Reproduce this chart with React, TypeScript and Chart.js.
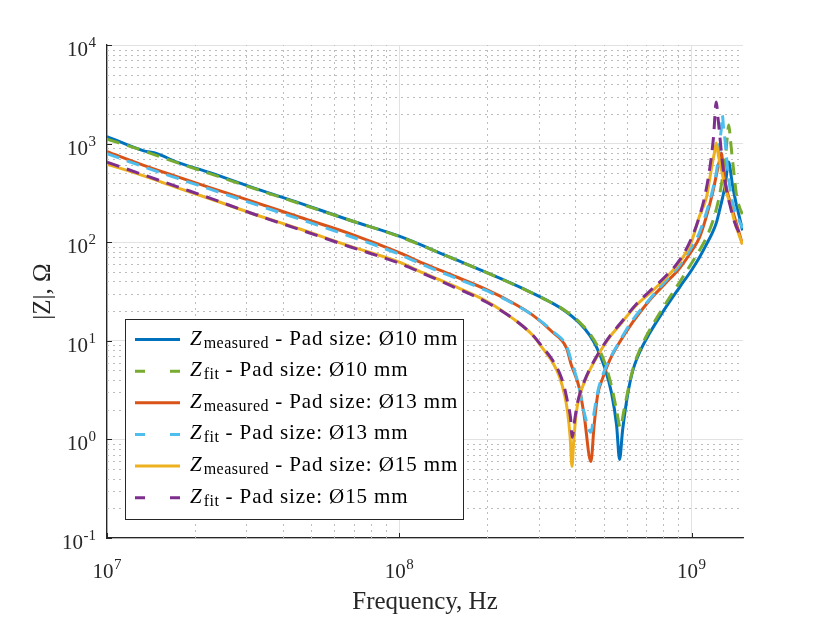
import { useEffect, useRef } from 'react';
import { Chart, registerables } from 'chart.js';

Chart.register(...registerables);

// ---------- data (frequency in Hz, |Z| in Ohm) ----------
const fMeas10 = [1.0e7, 1.328e7, 1.482e7, 1.735e7, 2.25e7, 3.083e7, 4.569e7, 6.772e7, 1.0e8, 1.488e8, 2.206e8, 2.794e8, 3.27e8, 3.68e8, 4.141e8, 4.48e8, 4.734e8, 5.042e8, 5.328e8, 5.541e8, 5.673e8, 5.808e8, 6.041e8, 6.284e8, 6.641e8, 7.185e8, 8.086e8, 9.1e8, 1.0e9, 1.065e9, 1.125e9, 1.18e9, 1.218e9, 1.247e9, 1.276e9, 1.307e9, 1.338e9, 1.381e9, 1.425e9, 1.459e9, 1.494e9];
const zMeas10 = [1178, 849, 791, 649, 508, 366, 249, 167, 115, 70.4, 43.1, 31.4, 24.9, 20.2, 15.1, 11.4, 8.59, 5.38, 2.93, 1.39, 0.627, 1.23, 2.8, 4.9, 7.64, 11.9, 20.9, 34.9, 52.0, 70.4, 95.4, 126, 160, 211, 280, 397, 649, 379, 237, 179, 132];

const fFit10 = [1.0e7, 1.328e7, 1.482e7, 1.735e7, 2.25e7, 3.083e7, 4.569e7, 6.772e7, 1.0e8, 1.488e8, 2.206e8, 2.794e8, 3.27e8, 3.68e8, 4.141e8, 4.48e8, 4.734e8, 5.042e8, 5.328e8, 5.541e8, 5.708e8, 5.854e8, 6.041e8, 6.284e8, 6.641e8, 7.185e8, 8.086e8, 9.1e8, 1.0e9, 1.065e9, 1.125e9, 1.18e9, 1.218e9, 1.247e9, 1.276e9, 1.307e9, 1.322e9, 1.341e9, 1.359e9, 1.381e9, 1.403e9, 1.425e9, 1.459e9, 1.494e9];
const zFit10 = [1111, 849, 755, 641, 496, 362, 246, 167, 114, 70.4, 43.1, 31.4, 24.9, 20.4, 15.4, 11.9, 9.21, 6.05, 3.45, 1.97, 1.32, 1.88, 3.0, 5.02, 8.01, 12.8, 22.9, 39.3, 61.2, 82.9, 112, 160, 221, 300, 446, 712, 1085, 1541, 1085, 680, 446, 300, 227, 192];

const fMeas13 = [1.0e7, 1.328e7, 1.735e7, 2.25e7, 3.083e7, 4.569e7, 6.772e7, 1.0e8, 1.203e8, 1.488e8, 1.991e8, 2.443e8, 2.861e8, 3.348e8, 3.738e8, 3.873e8, 4.125e8, 4.291e8, 4.526e8, 4.642e8, 4.771e8, 4.963e8, 5.245e8, 5.673e8, 6.284e8, 7.185e8, 8.086e8, 9.1e8, 1.0e9, 1.065e9, 1.125e9, 1.18e9, 1.218e9, 1.247e9, 1.264e9, 1.287e9, 1.317e9, 1.359e9, 1.403e9, 1.459e9, 1.494e9];
const zMeas13 = [829, 605, 462, 358, 264, 179, 122, 78.2, 61.2, 47.3, 33.0, 24.3, 18.2, 12.2, 8.39, 5.77, 3.37, 1.75, 0.598, 1.39, 2.8, 4.16, 6.34, 9.66, 15.4, 25.8, 37.5, 54.5, 81.0, 112, 184, 314, 490, 680, 801, 538, 353, 249, 179, 121, 95.4];

const fFit13 = [1.0e7, 1.328e7, 1.735e7, 2.25e7, 3.083e7, 4.569e7, 6.772e7, 1.0e8, 1.203e8, 1.488e8, 1.991e8, 2.443e8, 2.861e8, 3.348e8, 3.738e8, 3.873e8, 4.125e8, 4.291e8, 4.526e8, 4.642e8, 4.771e8, 4.963e8, 5.245e8, 5.673e8, 6.284e8, 7.185e8, 8.086e8, 9.1e8, 1.0e9, 1.065e9, 1.125e9, 1.18e9, 1.213e9, 1.232e9, 1.247e9, 1.265e9, 1.275e9, 1.287e9, 1.302e9, 1.317e9, 1.354e9, 1.381e9, 1.425e9, 1.494e9];
const zFit13 = [791, 584, 446, 345, 252, 171, 115, 75.5, 59.1, 45.7, 32.2, 24.0, 18.2, 12.5, 8.79, 6.34, 3.37, 1.88, 1.18, 1.88, 3.0, 4.46, 6.49, 9.88, 16.2, 26.4, 39.3, 58.4, 88.9, 126, 202, 337, 490, 680, 1012, 1437, 1947, 1437, 1085, 729, 353, 255, 192, 139];

const fMeas15 = [1.0e7, 1.328e7, 1.735e7, 2.25e7, 3.083e7, 4.569e7, 6.772e7, 1.0e8, 1.203e8, 1.488e8, 1.991e8, 2.443e8, 2.861e8, 3.095e8, 3.348e8, 3.538e8, 3.68e8, 3.768e8, 3.843e8, 3.898e8, 3.95e8, 4.013e8, 4.076e8, 4.141e8, 4.309e8, 4.48e8, 4.848e8, 5.245e8, 5.673e8, 6.47e8, 7.185e8, 8.086e8, 9.1e8, 1.0e9, 1.065e9, 1.125e9, 1.152e9, 1.18e9, 1.199e9, 1.215e9, 1.237e9, 1.267e9, 1.307e9, 1.354e9, 1.403e9, 1.459e9, 1.494e9];
const zMeas15 = [619, 473, 358, 276, 199, 136, 91.1, 62.7, 49.0, 37.5, 25.2, 16.9, 11.4, 8.39, 6.05, 4.26, 2.8, 1.88, 1.05, 0.532, 0.932, 1.63, 2.27, 2.8, 3.88, 5.02, 7.64, 10.9, 14.4, 22.9, 30.3, 42.1, 62.7, 102, 184, 286, 426, 649, 820, 1012, 747, 538, 345, 249, 163, 115, 95.4];

const fFit15 = [1.0e7, 1.328e7, 1.735e7, 2.25e7, 3.083e7, 4.569e7, 6.772e7, 1.0e8, 1.203e8, 1.488e8, 1.991e8, 2.443e8, 2.861e8, 3.095e8, 3.348e8, 3.538e8, 3.68e8, 3.768e8, 3.857e8, 3.904e8, 3.981e8, 4.076e8, 4.141e8, 4.309e8, 4.48e8, 4.848e8, 5.245e8, 5.673e8, 6.47e8, 7.185e8, 8.086e8, 9.1e8, 1.0e9, 1.065e9, 1.108e9, 1.152e9, 1.189e9, 1.215e9, 1.232e9, 1.247e9, 1.279e9, 1.317e9, 1.354e9, 1.403e9, 1.459e9, 1.494e9];
const zFit15 = [649, 484, 366, 280, 199, 134, 90.0, 61.2, 48.4, 36.6, 24.6, 16.9, 11.4, 8.59, 6.34, 4.68, 3.29, 2.37, 1.63, 1.05, 1.56, 2.37, 2.86, 3.97, 5.14, 7.82, 11.1, 14.7, 23.5, 31.8, 44.1, 65.7, 110, 184, 286, 538, 1164, 2638, 1815, 1278, 591, 337, 237, 160, 123, 112];

const seriesF = [fMeas10, fFit10, fMeas13, fFit13, fMeas15, fFit15];
const seriesZ = [zMeas10, zFit10, zMeas13, zFit13, zMeas15, zFit15];
const seriesColors = ['#0072BD', '#77AC30', '#D95319', '#4DBEEE', '#EDB120', '#7E2F8E'];
const seriesDashed = [false, true, false, true, false, true];
const legendSubs = ['measured', 'fit', 'measured', 'fit', 'measured', 'fit'];
const legendRest = [' - Pad size: Ø10 mm', ' - Pad size: Ø10 mm', ' - Pad size: Ø13 mm', ' - Pad size: Ø13 mm', ' - Pad size: Ø15 mm', ' - Pad size: Ø15 mm'];

const xMajorTicks = [1e7, 1e8, 1e9];
const xTickExponents = ['7', '8', '9'];
const yMajorTicks = [1e-1, 1, 10, 100, 1000, 10000];
const yTickExponents = ['-1', '0', '1', '2', '3', '4'];
const minorMultipliers = [2, 3, 4, 5, 6, 7, 8, 9];

const xTitle = 'Frequency, Hz';
const yTitle = '|Z|, Ω';

const SERIF = '"Liberation Serif", "Times New Roman", serif';

const decorPlugin = {
  id: 'decor',
  beforeDatasetsDraw(chart: any) {
    const { ctx, chartArea: a, scales } = chart;
    const x = scales.x;
    const y = scales.y;
    ctx.save();
    ctx.strokeStyle = '#bdbdbd';
    ctx.lineWidth = 1;
    ctx.setLineDash([2, 4]);
    for (const major of xMajorTicks) {
      for (const m of minorMultipliers) {
        const v = major * m;
        if (v < x.min || v > x.max) continue;
        const px = Math.round(x.getPixelForValue(v)) + 0.5;
        ctx.beginPath();
        ctx.moveTo(px, a.bottom);
        ctx.lineTo(px, a.top);
        ctx.stroke();
      }
    }
    for (const major of yMajorTicks) {
      for (const m of minorMultipliers) {
        const v = major * m;
        if (v < y.min || v > y.max) continue;
        const py = Math.round(y.getPixelForValue(v)) + 0.5;
        ctx.beginPath();
        ctx.moveTo(a.left, py);
        ctx.lineTo(a.right, py);
        ctx.stroke();
      }
    }
    ctx.restore();
  },
  afterDraw(chart: any) {
    const { ctx, chartArea: a, scales } = chart;
    const x = scales.x;
    const y = scales.y;
    ctx.save();
    // tick marks (inward)
    ctx.strokeStyle = '#262626';
    ctx.lineWidth = 1;
    ctx.setLineDash([]);
    xMajorTicks.forEach((v) => {
      const px = Math.round(x.getPixelForValue(v)) + 0.5;
      ctx.beginPath();
      ctx.moveTo(px, a.bottom);
      ctx.lineTo(px, a.bottom - 5);
      ctx.stroke();
    });
    yMajorTicks.forEach((v) => {
      const py = Math.round(y.getPixelForValue(v)) + 0.5;
      ctx.beginPath();
      ctx.moveTo(a.left, py);
      ctx.lineTo(a.left + 5, py);
      ctx.stroke();
    });

    // tick labels
    ctx.fillStyle = '#262626';
    ctx.textBaseline = 'alphabetic';
    ctx.textAlign = 'left';
    const baseFont = `21px ${SERIF}`;
    const expFont = `15px ${SERIF}`;
    xMajorTicks.forEach((v, i) => {
      const px = x.getPixelForValue(v);
      ctx.font = baseFont;
      const w1 = ctx.measureText('10').width;
      ctx.font = expFont;
      const w2 = ctx.measureText(xTickExponents[i]).width;
      const start = px - (w1 + w2 + 0.5) / 2;
      ctx.font = baseFont;
      ctx.fillText('10', start, a.bottom + 40);
      ctx.font = expFont;
      ctx.fillText(xTickExponents[i], start + w1 + 0.5, a.bottom + 31);
    });
    yMajorTicks.forEach((v, i) => {
      const py = y.getPixelForValue(v);
      ctx.font = baseFont;
      const w1 = ctx.measureText('10').width;
      ctx.font = expFont;
      const w2 = ctx.measureText(yTickExponents[i]).width;
      const right = a.left - 11;
      const start = right - w2 - 0.5 - w1;
      ctx.font = baseFont;
      ctx.fillText('10', start, py + 11);
      ctx.font = expFont;
      ctx.fillText(yTickExponents[i], start + w1 + 0.5, py + 2);
    });

    // axis titles
    ctx.font = `25px ${SERIF}`;
    ctx.textAlign = 'center';
    ctx.fillText(xTitle, (a.left + a.right) / 2, a.bottom + 71);
    ctx.save();
    ctx.translate(a.left - 57, (a.top + a.bottom) / 2);
    ctx.rotate(-Math.PI / 2);
    ctx.fillText(yTitle, 0, 0);
    ctx.restore();

    // legend
    const bx = 125.5, by = 319.5, bw = 338, bh = 200;
    ctx.fillStyle = '#ffffff';
    ctx.fillRect(bx, by, bw, bh);
    ctx.strokeStyle = '#262626';
    ctx.lineWidth = 1;
    ctx.strokeRect(bx, by, bw, bh);
    const rowStart = 339.5;
    const rowGap = 31.65;
    for (let i = 0; i < seriesColors.length; i++) {
      const ry = rowStart + i * rowGap;
      ctx.strokeStyle = seriesColors[i];
      ctx.lineWidth = 3;
      ctx.lineCap = 'butt';
      ctx.setLineDash(seriesDashed[i] ? [10, 25] : []);
      ctx.beginPath();
      ctx.moveTo(135, ry);
      ctx.lineTo(180, ry);
      ctx.stroke();
      ctx.setLineDash([]);
      ctx.fillStyle = '#000000';
      ctx.textAlign = 'left';
      let tx = 190;
      ctx.font = `italic 21px ${SERIF}`;
      (ctx as any).letterSpacing = '0px';
      ctx.fillText('Z', tx, ry + 5);
      tx += ctx.measureText('Z').width + 2;
      ctx.font = `16px ${SERIF}`;
      (ctx as any).letterSpacing = '0.5px';
      ctx.fillText(legendSubs[i], tx, ry + 8);
      tx += ctx.measureText(legendSubs[i]).width;
      ctx.font = `21px ${SERIF}`;
      (ctx as any).letterSpacing = '0.9px';
      ctx.fillText(legendRest[i], tx, ry + 5);
      (ctx as any).letterSpacing = '0px';
    }
    ctx.restore();
  },
};

export default function App() {
  const canvasRef = useRef<HTMLCanvasElement | null>(null);

  useEffect(() => {
    if (!canvasRef.current) return;
    const datasets = seriesF.map((fs, i) => ({
      label: legendSubs[i] + legendRest[i],
      data: fs.map((f, j) => ({ x: f, y: seriesZ[i][j] })),
      borderColor: seriesColors[i],
      backgroundColor: seriesColors[i],
      borderWidth: 3,
      borderDash: seriesDashed[i] ? [13, 8] : [],
      borderCapStyle: 'butt' as const,
      pointRadius: 0,
      showLine: true,
      fill: false,
      cubicInterpolationMode: 'monotone' as const,
      order: seriesColors.length - i,
    }));

    const chart = new Chart(canvasRef.current, {
      type: 'scatter',
      data: { datasets },
      options: {
        animation: false,
        responsive: true,
        maintainAspectRatio: false,
        layout: { padding: { left: 107, top: 45, right: 79, bottom: 79 } },
        plugins: { legend: { display: false }, tooltip: { enabled: false } },
        scales: {
          x: {
            type: 'logarithmic',
            min: 1e7,
            max: 1.5e9,
            afterBuildTicks: (s: any) => {
              s.ticks = xMajorTicks.map((v) => ({ value: v }));
            },
            afterFit: (s: any) => {
              s.height = 0;
            },
            ticks: { display: false },
            grid: { color: '#e2e2e2', lineWidth: 1, drawTicks: false },
            border: { display: true, color: '#262626', width: 1.3 },
          },
          y: {
            type: 'logarithmic',
            min: 0.1,
            max: 10000,
            afterBuildTicks: (s: any) => {
              s.ticks = yMajorTicks.map((v) => ({ value: v }));
            },
            afterFit: (s: any) => {
              s.width = 0;
            },
            ticks: { display: false },
            grid: { color: '#e2e2e2', lineWidth: 1, drawTicks: false },
            border: { display: true, color: '#262626', width: 1.3 },
          },
        },
      } as any,
      plugins: [decorPlugin],
    });
    return () => chart.destroy();
  }, []);

  return (
    <div style={{ position: 'absolute', left: 0, top: 0, width: 822, height: 617, background: '#ffffff' }}>
      <canvas ref={canvasRef} />
    </div>
  );
}
